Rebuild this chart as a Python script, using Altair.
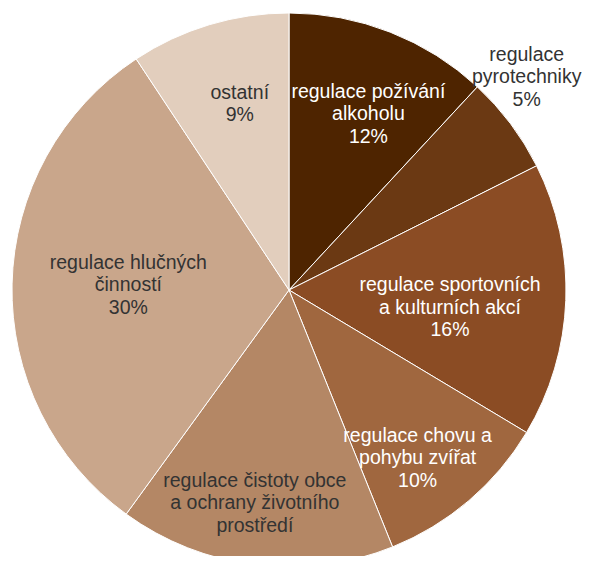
import altair as alt
import pandas as pd

categories = [
    "regulace požívání alkoholu",
    "regulace pyrotechniky",
    "regulace sportovních a kulturních akcí",
    "regulace chovu a pohybu zvířat",
    "regulace čistoty obce a ochrany životního prostředí",
    "regulace hlučných činností",
    "ostatní",
]
# slice shares
values = [11.9, 5.7, 16.0, 10.3, 16.1, 30.7, 9.3]
label_lines = [
    ["regulace požívání", "alkoholu", "12%"],
    ["regulace", "pyrotechniky", "5%"],
    ["regulace sportovních", "a kulturních akcí", "16%"],
    ["regulace chovu a", "pohybu zvířat", "10%"],
    ["regulace čistoty obce", "a ochrany životního", "prostředí"],
    ["regulace hlučných", "činností", "30%"],
    ["ostatní", "9%"],
]
colors = ["#4e2400", "#6b3913", "#8b4c24", "#a0673f", "#b48765", "#c9a68b", "#e2cebd"]
outside = ["regulace pyrotechniky"]
dark_text = ["regulace čistoty obce a ochrany životního prostředí",
             "regulace hlučných činností", "ostatní", "regulace pyrotechniky"]

df = pd.DataFrame({
    "category": categories,
    "value": values,
    "idx": list(range(len(categories))),
    "label": label_lines,
})

CX, CY, R = 281, 282, 277
LH = 22.5
FONT = dict(font="Liberation Sans", fontSize=19.5, lineHeight=LH, align="center", baseline="middle")

pie = alt.Chart(df).mark_arc(outerRadius=R, stroke="white", strokeWidth=1).encode(
    theta=alt.Theta("value:Q", stack=True),
    order=alt.Order("idx:Q"),
    x=alt.value(CX),
    y=alt.value(CY),
    color=alt.Color("category:N", scale=alt.Scale(domain=categories, range=colors), legend=None),
)

text_color = alt.condition(
    alt.FieldOneOfPredicate(field="category", oneOf=dark_text),
    alt.value("#333333"),
    alt.value("#ffffff"),
)

# mid angle of each slice (radians, clockwise from top); label block centred on it,
# nearer the centre for wide labels at the sides; outside labels further out
lab = alt.Chart(df).transform_joinaggregate(
    total="sum(value)"
).transform_window(
    cum="sum(value)", sort=[alt.SortField("idx")], frame=[None, 0]
).transform_calculate(
    mid="2*PI*(datum.cum - datum.value/2)/datum.total",
    n="length(datum.label)",
    out=f"indexof({outside!r}, datum.category) >= 0",
).transform_calculate(
    lr="datum.out ? 319 : 204 - 7*cos(datum.mid) - 43*pow(sin(datum.mid), 8)",
    ang="datum.out ? datum.mid - 0.086 : datum.mid + 0.04",
    shift="datum.out ? 0 : 5",
).transform_calculate(
    px=f"{CX} + datum.lr*sin(datum.ang)",
    py=f"{CY} - datum.lr*cos(datum.ang) - (datum.n - 1)*{LH}/2 + datum.shift",
)

labels = lab.mark_text(**FONT).encode(
    x=alt.X("px:Q", scale=None, axis=None),
    y=alt.Y("py:Q", scale=None, axis=None),
    text="label",
    color=text_color,
)

chart = alt.layer(pie, labels).properties(
    width=580, height=548, padding=0, autosize="none"
).configure_view(stroke=None)

chart.save("out.html", embed_options={"renderer": "svg", "actions": False})
